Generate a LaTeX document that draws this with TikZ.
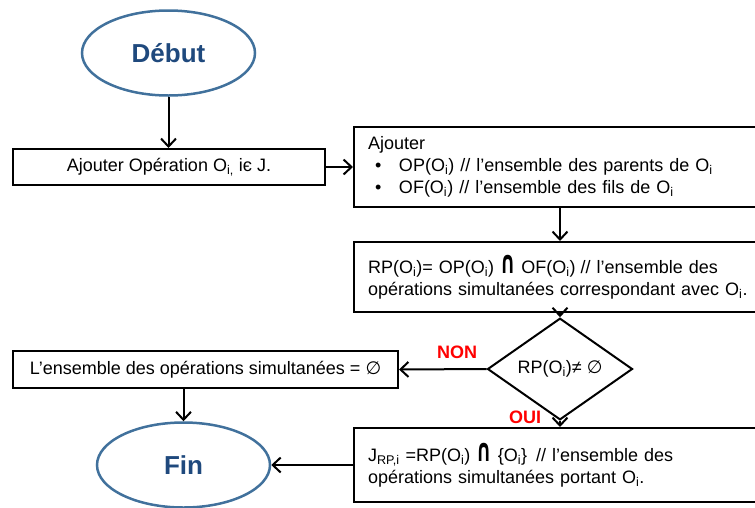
\documentclass[tikz,border=0pt]{standalone}
\usepackage{graphicx}
\usepackage{fontspec}
\setmainfont{Liberation Sans}
\newfontfamily\symfont{DejaVu Sans}
\usetikzlibrary{shapes.geometric,arrows.meta}

\definecolor{ovalblue}{RGB}{65,113,156}
\definecolor{titleblue}{RGB}{31,73,125}
\newcommand{\Osub}{O\textsubscript{i}}
\newcommand{\inter}{\scalebox{0.9}[1.5]{\symfont\bfseries\fontsize{21}{21}\selectfont ∩}}
\newcommand{\vide}{{\symfont ∅}}
\newcommand{\puce}{\hspace*{7pt}\makebox[24pt][l]{\textbullet}}

\begin{document}
\begin{tikzpicture}[x=1pt,y=-1pt,
  every node/.style={font=\fontsize{18}{22}\selectfont},
  box/.style={draw,line width=2pt,rectangle,inner sep=0pt},
  leftbox/.style={box,anchor=west,inner xsep=14pt,text width=410pt,align=left},
  term/.style={draw=ovalblue,line width=2.5pt,ellipse,inner sep=0pt,minimum width=173pt,minimum height=85pt,
    text=titleblue,font=\fontsize{26}{30}\selectfont\bfseries},
  decision/.style={draw,line width=2pt,diamond,inner sep=0pt,minimum width=145pt,minimum height=61pt},
  answer/.style={text=red,font=\fontsize{18}{21}\selectfont\bfseries},
  arr/.style={line width=2pt,-{Straight Barb[length=8pt,width=15pt]}}]
\useasboundingbox (0,0) rectangle (755,507);
% start / end
\node[term] (debut) at (168.5,53) {Début};
\node[term] (fin) at (183.5,465) {Fin};
% boxes
\node[box,minimum width=312pt,minimum height=36pt] (ajout) at (169,167) {Ajouter Opération O\textsubscript{i,} iє J.};
\node[leftbox,minimum height=80pt] (parents) at (353,167)
  {Ajouter\\
   \puce OP(\Osub) // l’ensemble des parents de \Osub\\
   \puce OF(\Osub) // l’ensemble des fils de \Osub};
\node[leftbox,minimum height=70pt] (rp) at (353,277)
  {RP(\Osub)= OP(\Osub) \inter\ OF(\Osub)\hspace{5pt}// l’ensemble des\\
   \makebox[384pt][s]{opérations simultanées correspondant avec \Osub.}};
\node[decision] (test) at (560,369) {RP(\Osub)≠ \vide};
\node[box,minimum width=385pt,minimum height=37pt] (vide) at (205.5,369.5) {L’ensemble des opérations simultanées = \vide};
\node[leftbox,minimum height=74pt] (jrp) at (353,465)
  {J\textsubscript{RP,i} =RP(\Osub) \inter\ \{\Osub\}\hspace{9pt}// l’ensemble des\\
   opérations simultanées portant \Osub.};
% labels
\node[answer] (non) at (457,352) {NON};
\node[answer] (oui) at (525,417) {OUI};
% arrows
\draw[arr] (debut.south) -- (debut.south |- ajout.north);
\draw[arr] (ajout.east) -- (parents.west);
\draw[arr] (parents.south -| test) -- (rp.north -| test);
\draw[arr] (rp.south -| test) -- (test.north);
\draw[arr] (test.west) -- (vide.east);
\draw[arr] (test.south) -- (jrp.north -| test);
\draw[arr] (vide.south -| fin) -- (fin.north);
\draw[arr] (jrp.west) -- (fin.east);
\end{tikzpicture}
\end{document}
